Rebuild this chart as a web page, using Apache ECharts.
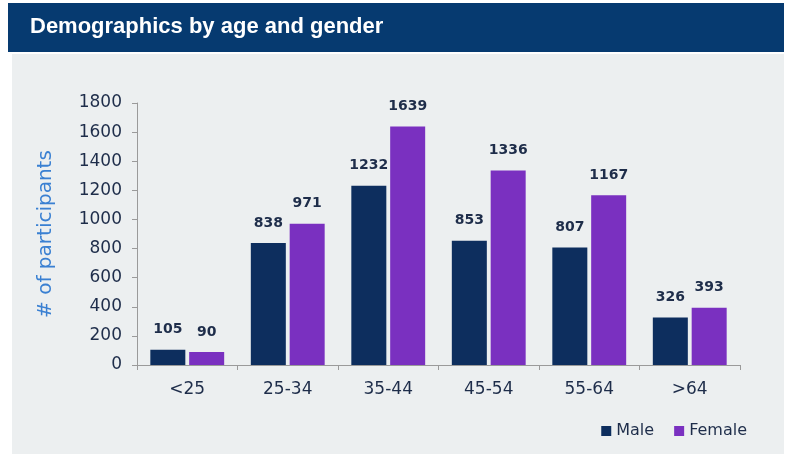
<!DOCTYPE html>
<html><head><meta charset="utf-8">
<script src="https://cdn.jsdelivr.net/npm/echarts@6/dist/echarts.min.js"></script>
<style>html,body{margin:0;padding:0;background:#fff}#c{width:786px;height:454px}</style>
</head><body><div id="c"></div>
<script>
const categories = ['<25','25-34','35-44','45-54','55-64','>64'];
const maleValues = [105, 838, 1232, 853, 807, 326];
const femaleValues = [90, 971, 1639, 1336, 1167, 393];
const yTicks = [0,200,400,600,800,1000,1200,1400,1600,1800];
const titleText = 'Demographics by age and gender';
const yName = '# of participants';

const chart = echarts.init(document.getElementById('c'), null, {renderer:'canvas'});
const labelStyle = {show:true, position:'top', distance:13, color:'#1e2d4a', fontFamily:'DejaVu Sans', fontWeight:'bold', fontSize:14};
chart.setOption({
  animation:false,
  backgroundColor:'#ffffff',
  graphic:[
    {type:'rect', z:-10, shape:{x:12,y:54,width:772,height:400}, style:{fill:'#eceff0'}},
    {type:'rect', z:-10, shape:{x:8,y:3,width:776,height:49}, style:{fill:'#063a70'}},
    {type:'text', left:30, top:16, style:{text:titleText, fill:'#ffffff', font:'bold 22px "Liberation Sans", sans-serif'}}
  ],
  grid:{left:137, right:46, top:103, bottom:89},
  legend:{
    data:['Male','Female'], right:34, bottom:10, itemWidth:10, itemHeight:10, itemGap:20,
    icon:'rect', textStyle:{color:'#1e2d4a', fontSize:16, fontFamily:'DejaVu Sans'}
  },
  xAxis:{
    type:'category', data:categories,
    axisLine:{lineStyle:{color:'#9a9a9a'}},
    axisTick:{show:true, length:5, lineStyle:{color:'#9a9a9a'}},
    axisLabel:{color:'#1e2d4a', fontSize:17, fontFamily:'DejaVu Sans', margin:16}
  },
  yAxis:{
    type:'value', min:0, max:1800, interval:200,
    name:yName, nameLocation:'middle', nameGap:81,
    nameTextStyle:{color:'#3a80d2', fontSize:20, fontFamily:'DejaVu Sans'},
    axisLine:{show:true, lineStyle:{color:'#9a9a9a'}},
    axisTick:{show:true, length:5, lineStyle:{color:'#9a9a9a'}},
    splitLine:{show:false},
    axisLabel:{color:'#1e2d4a', fontSize:17, fontFamily:'DejaVu Sans', margin:15,
      formatter:v=> yTicks.includes(v) ? String(v) : ''}
  },
  series:[
    {name:'Male', type:'bar', data:maleValues, barWidth:35, barGap:'11%', itemStyle:{color:'#0d2e5e'}, label:labelStyle},
    {name:'Female', type:'bar', data:femaleValues, barWidth:35, itemStyle:{color:'#7a30c0'}, label:labelStyle}
  ]
});
</script></body></html>
